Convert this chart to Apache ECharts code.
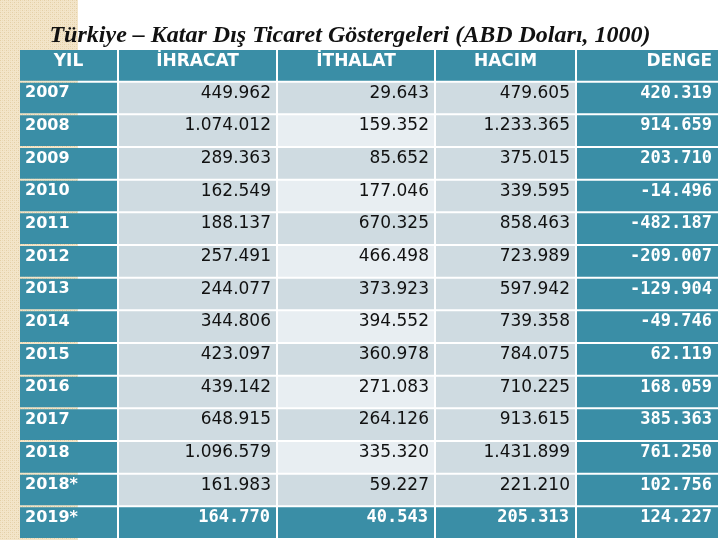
<!DOCTYPE html>
<html>
<head>
<meta charset="utf-8">
<script src="https://cdn.jsdelivr.net/npm/echarts@6/dist/echarts.min.js"></script>
<style>html,body{margin:0;padding:0;background:#fff;}#c{width:720px;height:540px;}</style>
</head>
<body>
<div id="c"></div>
<script>
const titleText = 'Türkiye – Katar Dış Ticaret Göstergeleri (ABD Doları, 1000)';
const headers = ['YIL', 'İHRACAT', 'İTHALAT', 'HACIM', 'DENGE'];
const years = ['2007','2008','2009','2010','2011','2012','2013','2014','2015','2016','2017','2018','2018*','2019*'];
const ihracat = [449962, 1074012, 289363, 162549, 188137, 257491, 244077, 344806, 423097, 439142, 648915, 1096579, 161983, 164770];
const ithalat = [29643, 159352, 85652, 177046, 670325, 466498, 373923, 394552, 360978, 271083, 264126, 335320, 59227, 40543];
const hacim = [479605, 1233365, 375015, 339595, 858463, 723989, 597942, 739358, 784075, 710225, 913615, 1431899, 221210, 205313];
const denge = [420319, 914659, 203710, -14496, -482187, -209007, -129904, -49746, 62119, 168059, 385363, 761250, 102756, 124227];

const valueCols = [null, ihracat, ithalat, hacim, denge];
const rowCats = ['HEAD'].concat(years);

const TEAL = '#3a8ea6', GRAY = '#cfdbe1', LIGHT = '#e8eef2';

function fmt(v) {
  const neg = v < 0;
  let s = Math.abs(v).toString();
  s = s.replace(/\B(?=(\d{3})+(?!\d))/g, '.');
  return (neg ? '-' : '') + s;
}

// texture for left beige strip
const pc = document.createElement('canvas');
pc.width = 4; pc.height = 4;
const pctx = pc.getContext('2d');
pctx.fillStyle = '#f3e5c9'; pctx.fillRect(0,0,4,4);
pctx.fillStyle = '#e4cfa6'; pctx.fillRect(0,0,1,1); pctx.fillRect(2,2,1,1);
pctx.fillStyle = '#ecdbb9'; pctx.fillRect(2,0,1,1); pctx.fillRect(0,2,1,1);

const gridDefs = [
  {left: 20, width: 99},
  {left: 119, width: 159},
  {left: 278, width: 158},
  {left: 436, width: 141},
  {left: 577, width: 145}
];

const grids = [], xAxes = [], yAxes = [], series = [];
headers.forEach((h, ci) => {
  grids.push({left: gridDefs[ci].left, width: gridDefs[ci].width, top: 50, height: 490, containLabel: false});
  xAxes.push({type: 'category', gridIndex: ci, data: [h], show: false});
  yAxes.push({type: 'category', gridIndex: ci, data: rowCats, inverse: true, show: false});
  const data = rowCats.map((r, ri) => {
    let label;
    if (ri === 0) label = h;
    else if (ci === 0) label = years[ri - 1];
    else label = fmt(valueCols[ci][ri - 1]);
    return [h, r, label];
  });
  series.push({
    type: 'custom',
    xAxisIndex: ci,
    yAxisIndex: ci,
    data: data,
    renderItem: function (params, api) {
      const ri = params.dataIndex;
      const p = api.coord([api.value(0), api.value(1)]);
      const s = api.size([1, 1]);
      const x0 = p[0] - s[0] / 2, y0 = p[1] - s[1] / 2;
      const w = s[0] - 2, hgt = s[1] - 2;
      const last = ri === rowCats.length - 1;
      let fill;
      if (ri === 0 || ci === 0 || ci === 4 || last) fill = TEAL;
      else if (ci === 2) fill = (ri % 2 === 0) ? LIGHT : GRAY;
      else fill = GRAY;
      const label = data[ri][2];
      let style;
      if (ri === 0) {
        style = {
          text: label,
          x: ci === 4 ? x0 + w - 6 : x0 + w / 2,
          y: y0 + 11.5,
          align: ci === 4 ? 'right' : 'center',
          verticalAlign: 'middle',
          fill: '#ffffff',
          font: 'bold 17px "DejaVu Sans", sans-serif'
        };
      } else if (ci === 0) {
        style = {
          text: label,
          x: x0 + 5,
          y: y0 + 10.5,
          align: 'left',
          verticalAlign: 'middle',
          fill: '#ffffff',
          font: 'bold 16px "DejaVu Sans", sans-serif'
        };
      } else if (ci === 4 || last) {
        style = {
          text: label,
          x: x0 + w - 6,
          y: y0 + 10.5,
          align: 'right',
          verticalAlign: 'middle',
          fill: '#ffffff',
          font: 'bold 17px "DejaVu Sans Mono", monospace'
        };
      } else {
        style = {
          text: label,
          x: x0 + w - 5,
          y: y0 + 10.5,
          align: 'right',
          verticalAlign: 'middle',
          fill: '#111111',
          font: '17px "DejaVu Sans", sans-serif'
        };
      }
      return {
        type: 'group',
        children: [
          {type: 'rect', shape: {x: x0, y: y0, width: w, height: hgt}, style: {fill: fill}},
          {type: 'text', style: style}
        ]
      };
    }
  });
});

const chart = echarts.init(document.getElementById('c'), null, {renderer: 'canvas'});
chart.setOption({
  animation: false,
  backgroundColor: '#ffffff',
  title: {
    text: titleText,
    left: 345,
    top: 19,
    textAlign: 'center',
    textStyle: {
      fontFamily: '"Liberation Serif", "Times New Roman", serif',
      fontStyle: 'italic',
      fontWeight: 'bold',
      fontSize: 24,
      color: '#111111'
    }
  },
  graphic: [{
    type: 'rect',
    z: -10,
    silent: true,
    shape: {x: 0, y: 0, width: 78, height: 540},
    style: {fill: {image: pc, repeat: 'repeat'}}
  }],
  grid: grids,
  xAxis: xAxes,
  yAxis: yAxes,
  series: series
});
</script>
</body>
</html>
